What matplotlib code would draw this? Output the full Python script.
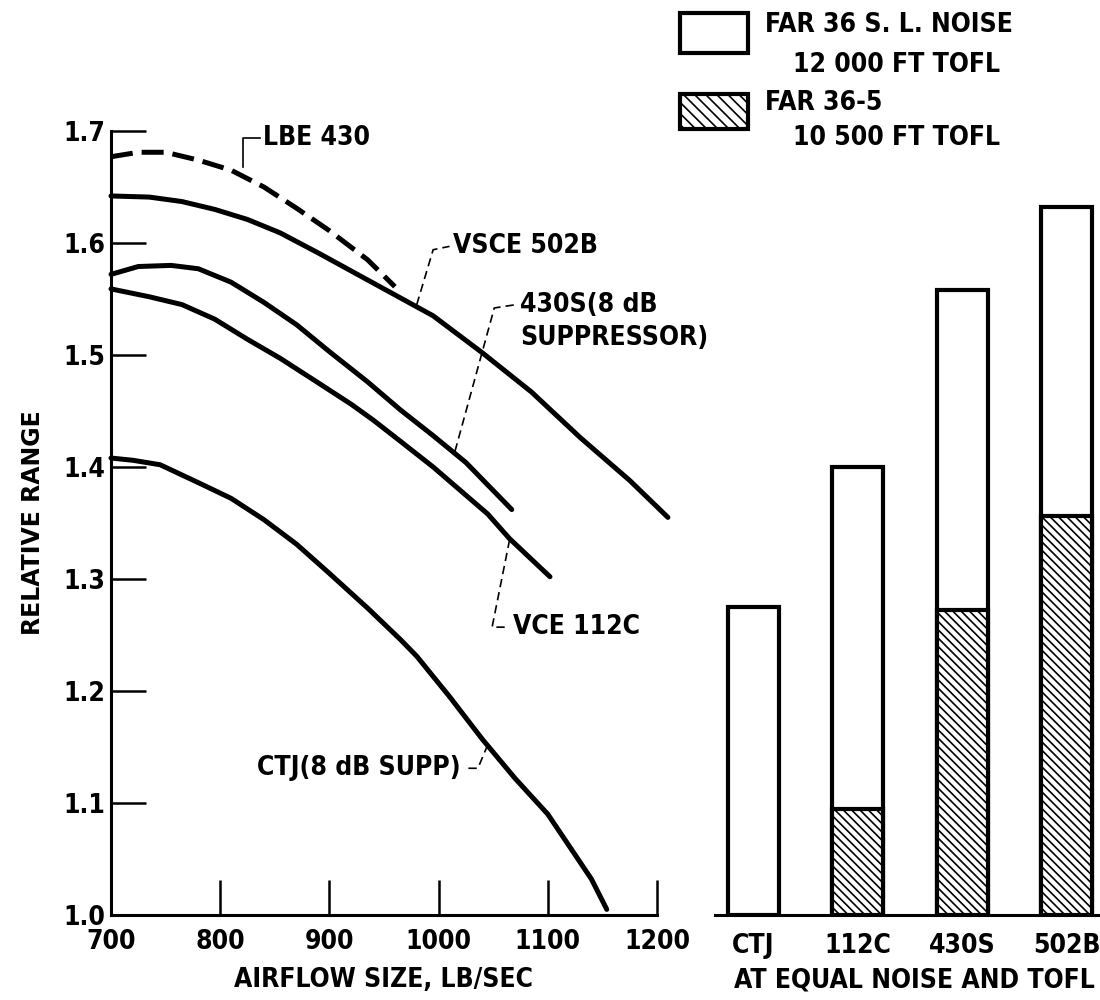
import matplotlib
matplotlib.use('Agg')
import matplotlib.pyplot as plt
from matplotlib.patches import Rectangle

plt.rcParams['font.family'] = ['DejaVu Sans']
plt.rcParams['font.stretch'] = 'condensed'
plt.rcParams['font.weight'] = 'bold'
plt.rcParams['axes.labelweight'] = 'bold'
plt.rcParams['hatch.linewidth'] = 1.2

# left panel: relative range vs airflow size
lbe_x = [700, 725, 750, 780, 810, 840, 870, 900, 935, 960]
lbe_y = [1.677, 1.681, 1.681, 1.674, 1.665, 1.650, 1.631, 1.611, 1.585, 1.561]

vsce_x = [700, 735, 765, 795, 825, 855, 890, 920, 950, 965, 995, 1040, 1085, 1130, 1175, 1210]
vsce_y = [1.642, 1.641, 1.637, 1.630, 1.621, 1.609, 1.591, 1.575, 1.559, 1.551, 1.535,
          1.502, 1.467, 1.426, 1.388, 1.355]

s430_x = [700, 725, 755, 780, 810, 840, 870, 900, 935, 965, 995, 1025, 1067]
s430_y = [1.572, 1.579, 1.580, 1.577, 1.565, 1.547, 1.527, 1.503, 1.476, 1.451, 1.428, 1.404, 1.362]

vce_x = [700, 735, 765, 795, 825, 855, 890, 920, 940, 965, 995, 1045, 1065, 1102]
vce_y = [1.559, 1.552, 1.545, 1.532, 1.514, 1.497, 1.475, 1.456, 1.442, 1.423, 1.400,
         1.358, 1.336, 1.302]

ctj_x = [700, 720, 745, 780, 810, 840, 870, 900, 935, 965, 980, 1010, 1040, 1070, 1100,
         1120, 1140, 1154]
ctj_y = [1.408, 1.406, 1.402, 1.386, 1.372, 1.353, 1.331, 1.305, 1.274, 1.246, 1.231,
         1.195, 1.157, 1.122, 1.090, 1.061, 1.032, 1.005]

x_ticks = [700, 800, 900, 1000, 1100, 1200]
y_ticks = [1.0, 1.1, 1.2, 1.3, 1.4, 1.5, 1.6, 1.7]

# right panel: bars at equal noise and TOFL
engines = ['CTJ', '112C', '430S', '502B']
far36_sl = [1.275, 1.400, 1.558, 1.632]
far36_5 = [None, 1.095, 1.272, 1.356]

FS = 19
fig = plt.figure(figsize=(11, 10), dpi=100)

ax = fig.add_axes([111 / 1100, 0.085, 546 / 1100, 0.784])
ax.plot(lbe_x, lbe_y, color='black', lw=3.6, dashes=(4.4, 1.8), clip_on=False)
for xs, ys in [(vsce_x, vsce_y), (s430_x, s430_y), (vce_x, vce_y), (ctj_x, ctj_y)]:
    ax.plot(xs, ys, color='black', lw=3.6, solid_capstyle='round',
            solid_joinstyle='round', clip_on=False)

ax.set_xlim(700, 1200)
ax.set_ylim(1.0, 1.7)
ax.set_xticks(x_ticks)
ax.set_yticks(y_ticks)
ax.set_xticklabels([str(v) for v in x_ticks], fontsize=FS)
ax.set_yticklabels(['1.0', '1.1', '1.2', '1.3', '1.4', '1.5', '1.6', '1.7'], fontsize=FS)
ax.tick_params(axis='both', direction='in', length=25, width=1.8, color='black')
ax.tick_params(axis='x', pad=10)
ax.tick_params(axis='y', pad=4)
for s in ['top', 'right']:
    ax.spines[s].set_visible(False)
for s in ['left', 'bottom']:
    ax.spines[s].set_linewidth(2.2)
ax.set_xlabel('AIRFLOW SIZE, LB/SEC', fontsize=FS)
ax.xaxis.set_label_coords(0.5, -0.083)
ax.xaxis.label.set_va('center')
ax.set_ylabel('RELATIVE RANGE', fontsize=17, fontstretch='normal')
ax.yaxis.set_label_coords(-0.143, 0.5)
ax.yaxis.label.set_va('center')

# leader lines and curve labels
lead = dict(color='black', lw=1.2, dashes=(5, 3), clip_on=False)
ax.plot([821, 821, 836], [1.668, 1.694, 1.694], color='black', lw=1.2, clip_on=False)
ax.text(839, 1.694, 'LBE 430', fontsize=FS, va='center', ha='left')
ax.plot([980, 995, 1010], [1.545, 1.594, 1.597], **lead)
ax.text(1013, 1.597, 'VSCE 502B', fontsize=FS, va='center', ha='left')
ax.plot([1015, 1051, 1071], [1.414, 1.542, 1.545], **lead)
ax.text(1075, 1.545, '430S(8 dB', fontsize=FS, va='center', ha='left')
ax.text(1075, 1.515, 'SUPPRESSOR)', fontsize=FS, va='center', ha='left')
ax.plot([1065, 1049, 1065], [1.335, 1.257, 1.257], **lead)
ax.text(1068, 1.257, 'VCE 112C', fontsize=FS, va='center', ha='left')
ax.plot([1045, 1036, 1024], [1.152, 1.131, 1.131], **lead)
ax.text(1020, 1.131, 'CTJ(8 dB SUPP)', fontsize=FS, va='center', ha='right')

# bar panel
bx = fig.add_axes([715 / 1100, 0.085, 385 / 1100, 0.784])
pos = list(range(len(engines)))
bx.bar(pos, [t - 1.0 for t in far36_sl], bottom=1.0, width=0.49,
       facecolor='white', edgecolor='black', linewidth=3)
for p, h in zip(pos, far36_5):
    if h is not None:
        bx.bar(p, h - 1.0, bottom=1.0, width=0.49, facecolor='white',
               edgecolor='black', linewidth=3, hatch='\\\\\\\\')
bx.set_xlim(-0.369, 3.32)
bx.set_ylim(1.0, 1.7)
bx.set_xticks(pos)
bx.set_xticklabels(engines, fontsize=FS)
bx.tick_params(axis='x', length=0, pad=13)
bx.set_yticks([])
for s in ['top', 'right', 'left']:
    bx.spines[s].set_visible(False)
bx.spines['bottom'].set_linewidth(2.2)
bx.set_xlabel('AT EQUAL NOISE AND TOFL', fontsize=FS)
bx.xaxis.set_label_coords(0.517, -0.083)
bx.xaxis.label.set_va('center')

# legend boxes drawn in figure coordinates
fig.patches.append(Rectangle((680 / 1100, 1 - 53 / 1000), 68 / 1100, 40 / 1000,
                             transform=fig.transFigure, facecolor='white',
                             edgecolor='black', linewidth=3))
fig.patches.append(Rectangle((680 / 1100, 1 - 129 / 1000), 68 / 1100, 35 / 1000,
                             transform=fig.transFigure, facecolor='white',
                             edgecolor='black', linewidth=3, hatch='\\\\\\'))
fig.text(765 / 1100, 1 - 25 / 1000, 'FAR 36 S. L. NOISE', fontsize=FS, va='center')
fig.text(793 / 1100, 1 - 65 / 1000, '12 000 FT TOFL', fontsize=FS, va='center')
fig.text(765 / 1100, 1 - 103 / 1000, 'FAR 36-5', fontsize=FS, va='center')
fig.text(793 / 1100, 1 - 138 / 1000, '10 500 FT TOFL', fontsize=FS, va='center')

fig.savefig('out.png', dpi=100)
